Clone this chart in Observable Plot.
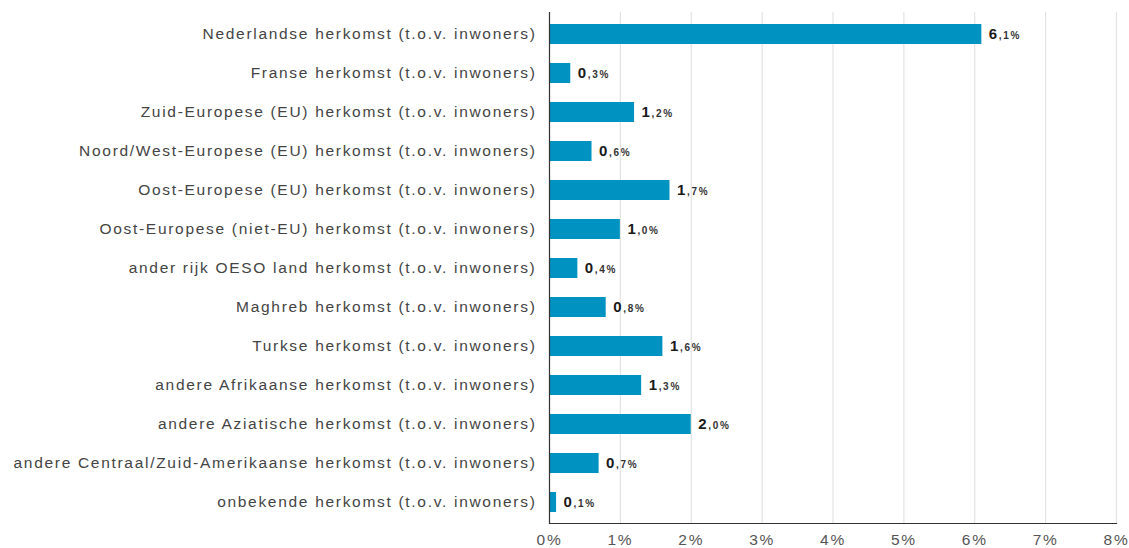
<!DOCTYPE html>
<html>
<head>
<meta charset="utf-8">
<script src="https://cdn.jsdelivr.net/npm/d3@7"></script>
<script src="https://cdn.jsdelivr.net/npm/@observablehq/plot@0.6"></script>
<style>
  html, body { margin: 0; padding: 0; background: #fff; }
  #chart svg { display: block; }
  #chart svg text { letter-spacing: 1.7px; }
</style>
</head>
<body>
<div id="chart"></div>
<script>
const categories = [
  "Nederlandse herkomst (t.o.v. inwoners)",
  "Franse herkomst (t.o.v. inwoners)",
  "Zuid-Europese (EU) herkomst (t.o.v. inwoners)",
  "Noord/West-Europese (EU) herkomst (t.o.v. inwoners)",
  "Oost-Europese (EU) herkomst (t.o.v. inwoners)",
  "Oost-Europese (niet-EU) herkomst (t.o.v. inwoners)",
  "ander rijk OESO land herkomst (t.o.v. inwoners)",
  "Maghreb herkomst (t.o.v. inwoners)",
  "Turkse herkomst (t.o.v. inwoners)",
  "andere Afrikaanse herkomst (t.o.v. inwoners)",
  "andere Aziatische herkomst (t.o.v. inwoners)",
  "andere Centraal/Zuid-Amerikaanse herkomst (t.o.v. inwoners)",
  "onbekende herkomst (t.o.v. inwoners)"
];
const values = [6.1, 0.3, 1.2, 0.6, 1.7, 1.0, 0.4, 0.8, 1.6, 1.3, 2.0, 0.7, 0.1];
const xTicks = [0, 1, 2, 3, 4, 5, 6, 7, 8];

const data = categories.map((c, i) => ({
  cat: c,
  v: values[i],
  intPart: String(Math.trunc(values[i])),
  fracPart: "," + values[i].toFixed(1).split(".")[1] + "%"
}));

const chart = Plot.plot({
  width: 1129,
  height: 548,
  marginLeft: 549,
  marginRight: 13,
  marginTop: 12,
  marginBottom: 25,
  style: { fontFamily: "'Liberation Sans', Arial, sans-serif", background: "#fff" },
  x: { domain: [0, 8], ticks: xTicks },
  y: { domain: categories, paddingInner: 0.49, paddingOuter: 0.245, label: null },
  marks: [
    Plot.gridX(xTicks, { stroke: "#e3e3e3", strokeOpacity: 1, strokeWidth: 1.2 }),
    Plot.barX(data, { x: "v", y: "cat", fill: "#0093C2" }),
    Plot.text(data, { x: "v", y: "cat", text: "intPart", textAnchor: "start", dx: 7, fontSize: 15, fontWeight: "bold", fill: "#1a1a1a" }),
    Plot.text(data, { x: "v", y: "cat", text: "fracPart", textAnchor: "start", dx: 17, dy: 1.6, fontSize: 10, fontWeight: "bold", fill: "#333" }),
    Plot.frame({ anchor: "bottom", stroke: "#333", strokeWidth: 1.2 }),
    Plot.frame({ anchor: "left", stroke: "#333", strokeWidth: 1.2 }),
    Plot.axisY({ tickSize: 0, tickPadding: 13, fontSize: 15.5, color: "#444", label: null }),
    Plot.axisX(xTicks, { tickSize: 0, tickPadding: 10, fontSize: 15.5, color: "#555", tickFormat: d => d + "%", label: null })
  ]
});
document.getElementById("chart").appendChild(chart);
</script>
</body>
</html>
